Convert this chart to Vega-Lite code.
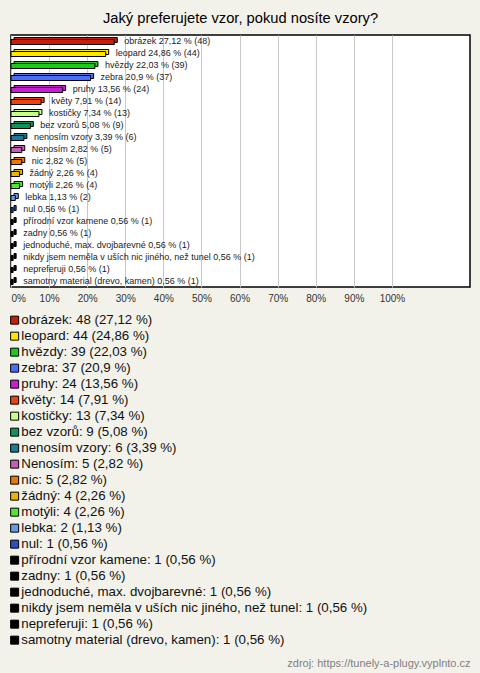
{
  "$schema": "https://vega.github.io/schema/vega-lite/v6.json",
  "autosize": {"type": "none"},
  "width": 459,
  "height": 252,
  "padding": {"left": 11, "top": 35, "right": 10, "bottom": 386},
  "background": "#f3f2ea",
  "title": {
    "text": "Jaký preferujete vzor, pokud nosíte vzory?",
    "font": "Liberation Sans",
    "fontSize": 14.7,
    "fontWeight": "normal",
    "color": "#000000",
    "anchor": "middle",
    "baseline": "alphabetic",
    "offset": -2.5
  },
  "data": {
    "values": [
      {"name": "obrázek", "count": 48, "pct": 27.12, "label": "obrázek 27,12 % (48)", "legend": "obrázek: 48 (27,12 %)"},
      {"name": "leopard", "count": 44, "pct": 24.86, "label": "leopard 24,86 % (44)", "legend": "leopard: 44 (24,86 %)"},
      {"name": "hvězdy", "count": 39, "pct": 22.03, "label": "hvězdy 22,03 % (39)", "legend": "hvězdy: 39 (22,03 %)"},
      {"name": "zebra", "count": 37, "pct": 20.9, "label": "zebra 20,9 % (37)", "legend": "zebra: 37 (20,9 %)"},
      {"name": "pruhy", "count": 24, "pct": 13.56, "label": "pruhy 13,56 % (24)", "legend": "pruhy: 24 (13,56 %)"},
      {"name": "květy", "count": 14, "pct": 7.91, "label": "květy 7,91 % (14)", "legend": "květy: 14 (7,91 %)"},
      {"name": "kostičky", "count": 13, "pct": 7.34, "label": "kostičky 7,34 % (13)", "legend": "kostičky: 13 (7,34 %)"},
      {"name": "bez vzorů", "count": 9, "pct": 5.08, "label": "bez vzorů 5,08 % (9)", "legend": "bez vzorů: 9 (5,08 %)"},
      {"name": "nenosím vzory", "count": 6, "pct": 3.39, "label": "nenosím vzory 3,39 % (6)", "legend": "nenosím vzory: 6 (3,39 %)"},
      {"name": "Nenosím", "count": 5, "pct": 2.82, "label": "Nenosím 2,82 % (5)", "legend": "Nenosím: 5 (2,82 %)"},
      {"name": "nic", "count": 5, "pct": 2.82, "label": "nic 2,82 % (5)", "legend": "nic: 5 (2,82 %)"},
      {"name": "žádný", "count": 4, "pct": 2.26, "label": "žádný 2,26 % (4)", "legend": "žádný: 4 (2,26 %)"},
      {"name": "motýli", "count": 4, "pct": 2.26, "label": "motýli 2,26 % (4)", "legend": "motýli: 4 (2,26 %)"},
      {"name": "lebka", "count": 2, "pct": 1.13, "label": "lebka 1,13 % (2)", "legend": "lebka: 2 (1,13 %)"},
      {"name": "nul", "count": 1, "pct": 0.56, "label": "nul 0,56 % (1)", "legend": "nul: 1 (0,56 %)"},
      {"name": "přírodní vzor kamene", "count": 1, "pct": 0.56, "label": "přírodní vzor kamene 0,56 % (1)", "legend": "přírodní vzor kamene: 1 (0,56 %)"},
      {"name": "zadny", "count": 1, "pct": 0.56, "label": "zadny 0,56 % (1)", "legend": "zadny: 1 (0,56 %)"},
      {"name": "jednoduché, max. dvojbarevné", "count": 1, "pct": 0.56, "label": "jednoduché, max. dvojbarevné 0,56 % (1)", "legend": "jednoduché, max. dvojbarevné: 1 (0,56 %)"},
      {"name": "nikdy jsem neměla v uších nic jiného, než tunel", "count": 1, "pct": 0.56, "label": "nikdy jsem neměla v uších nic jiného, než tunel 0,56 % (1)", "legend": "nikdy jsem neměla v uších nic jiného, než tunel: 1 (0,56 %)"},
      {"name": "nepreferuji", "count": 1, "pct": 0.56, "label": "nepreferuji 0,56 % (1)", "legend": "nepreferuji: 1 (0,56 %)"},
      {"name": "samotny material (drevo, kamen)", "count": 1, "pct": 0.56, "label": "samotny material (drevo, kamen) 0,56 % (1)", "legend": "samotny material (drevo, kamen): 1 (0,56 %)"}
    ]
  },
  "encoding": {
    "y": {
      "field": "name",
      "type": "nominal",
      "sort": null,
      "axis": null,
      "scale": {"paddingInner": 0, "paddingOuter": 0}
    },
    "x": {
      "field": "pct",
      "type": "quantitative",
      "scale": {"domain": [0, 120.5], "nice": false, "zero": true},
      "axis": {
        "values": [0, 10, 20, 30, 40, 50, 60, 70, 80, 90, 100],
        "labelExpr": "datum.value + '%'",
        "grid": true,
        "gridColor": "#c8c8c8",
        "gridWidth": 1,
        "domain": false,
        "ticks": false,
        "labelFont": "Liberation Sans",
        "labelFontSize": 10,
        "labelColor": "#333333",
        "labelPadding": 6,
        "labelFlush": true,
        "title": "zdroj: https://tunely-a-plugy.vyplnto.cz",
        "titleAnchor": "end",
        "titleFont": "Liberation Sans",
        "titleFontSize": 11,
        "titleFontWeight": "normal",
        "titleColor": "#808080",
        "titlePadding": 354
      }
    },
    "color": {
      "field": "legend",
      "type": "nominal",
      "scale": {
        "domain": ["obrázek: 48 (27,12 %)", "leopard: 44 (24,86 %)", "hvězdy: 39 (22,03 %)", "zebra: 37 (20,9 %)", "pruhy: 24 (13,56 %)", "květy: 14 (7,91 %)", "kostičky: 13 (7,34 %)", "bez vzorů: 9 (5,08 %)", "nenosím vzory: 6 (3,39 %)", "Nenosím: 5 (2,82 %)", "nic: 5 (2,82 %)", "žádný: 4 (2,26 %)", "motýli: 4 (2,26 %)", "lebka: 2 (1,13 %)", "nul: 1 (0,56 %)", "přírodní vzor kamene: 1 (0,56 %)", "zadny: 1 (0,56 %)", "jednoduché, max. dvojbarevné: 1 (0,56 %)", "nikdy jsem neměla v uších nic jiného, než tunel: 1 (0,56 %)", "nepreferuji: 1 (0,56 %)", "samotny material (drevo, kamen): 1 (0,56 %)"],
        "range": ["#c41e0c", "#ffe800", "#1ec81e", "#4c6ef5", "#c81ed2", "#e84414", "#c8ff8c", "#14915a", "#1e7a94", "#c060b8", "#e8780a", "#e8b40a", "#50e632", "#6c98e4", "#2a4fbe", "#000000", "#000000", "#000000", "#000000", "#000000", "#000000"]
      },
      "legend": {
        "orient": "none",
        "legendX": -3,
        "legendY": 278.5,
        "title": null,
        "padding": 0,
        "symbolType": "square",
        "symbolSize": 64,
        "symbolStrokeColor": "#000000",
        "symbolStrokeWidth": 1,
        "symbolOpacity": 1,
        "labelFont": "Liberation Sans",
        "labelFontSize": 13.3,
        "labelColor": "#111111",
        "labelOffset": 0,
        "labelLimit": 460,
        "rowPadding": 2
      }
    }
  },
  "layer": [
    {
      "mark": {"type": "bar", "size": 5, "xOffset": 3, "x2Offset": 3, "yOffset": -1, "stroke": "#000000", "strokeWidth": 1}
    },
    {
      "mark": {"type": "bar", "size": 5, "yOffset": 1, "stroke": "#000000", "strokeWidth": 1}
    },
    {
      "mark": {"type": "text", "align": "left", "baseline": "middle", "dx": 10, "font": "Liberation Sans", "fontSize": 9, "color": "#222222"},
      "encoding": {"text": {"field": "label"}, "color": {"value": "#222222"}}
    }
  ],
  "config": {
    "view": {"fill": "#ffffff", "stroke": "#000000", "strokeWidth": 1.5}
  }
}
